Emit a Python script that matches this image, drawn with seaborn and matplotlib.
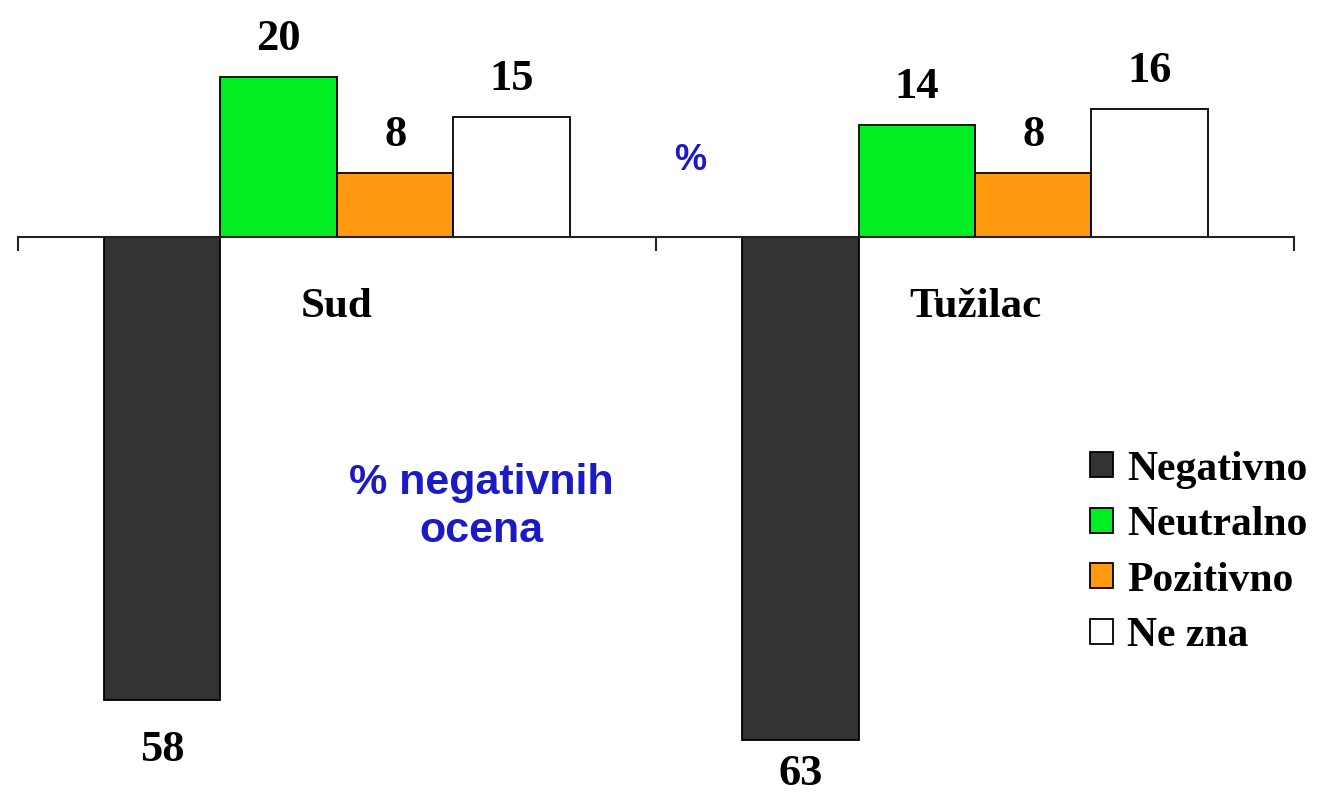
import matplotlib
matplotlib.use("Agg")
import matplotlib.pyplot as plt
import seaborn as sns
import pandas as pd

# ============================================================
# DATA
# ============================================================

kategorije = ["Sud", "Tužilac"]
ocene = ["Negativno", "Neutralno", "Pozitivno", "Ne zna"]

negativno = [58, 63]
neutralno = [20, 14]
pozitivno = [8, 8]
ne_zna = [15, 16]

boje = ["#333333", "#00EE22", "#FF9A10", "#FFFFFF"]

rows = []
for i, k in enumerate(kategorije):
    rows.append((k, "Negativno", -negativno[i]))
    rows.append((k, "Neutralno", neutralno[i]))
    rows.append((k, "Pozitivno", pozitivno[i]))
    rows.append((k, "Ne zna", ne_zna[i]))
df = pd.DataFrame(rows, columns=["kategorija", "ocena", "vrednost"])

# ============================================================
# PLOT
# ============================================================

sns.set_style("white")
plt.rcParams["font.family"] = ["Liberation Serif", "DejaVu Serif"]
plt.rcParams["font.weight"] = "bold"
plt.rcParams["text.color"] = "black"
plt.rcParams["xtick.color"] = "black"
plt.rcParams["xtick.labelcolor"] = "black"

fig = plt.figure(figsize=(13.17, 7.93), dpi=100)
ax = fig.add_axes([0, 0, 1, 1])

sns.barplot(
    data=df,
    x="kategorija",
    y="vrednost",
    hue="ocena",
    hue_order=ocene,
    order=kategorije,
    palette=boje,
    saturation=1,
    width=0.73,
    edgecolor="black",
    linewidth=1.3,
    errorbar=None,
    ax=ax,
)

ax.set_xlim(-0.528, 1.536)
ax.set_ylim(-69.67, 29.7)

for j, cont in enumerate(ax.containers):
    labels = [f"{abs(b.get_height()):.0f}" for b in cont]
    if j == 0:
        # negative bars: the Sud label sits lower than the Tužilac one
        ax.bar_label(cont, labels=[labels[0], ""], padding=22, fontsize=32,
                     fontweight="bold", color="black")
        ax.bar_label(cont, labels=["", labels[1]], padding=10, fontsize=32,
                     fontweight="bold", color="black")
    else:
        ax.bar_label(cont, labels=labels, padding=13, fontsize=32,
                     fontweight="bold", color="black")

# axis line at zero with category separators
for s in ["left", "right", "top"]:
    ax.spines[s].set_visible(False)
ax.spines["bottom"].set_position(("data", 0))
ax.spines["bottom"].set_bounds(-0.5, 1.5)
ax.spines["bottom"].set_linewidth(1.5)
ax.spines["bottom"].set_color("#222222")

ax.set_xticks([-0.5, 0.5, 1.5], minor=True)
ax.tick_params(axis="x", which="minor", bottom=True, length=10, width=1.5,
               direction="out", color="#222222")
ax.tick_params(axis="x", which="major", length=0, pad=37, labelsize=31)
ax.set_xticks([0, 1])
ax.set_xticklabels(kategorije, fontweight="bold", color="black")
ax.set_yticks([])
ax.set_xlabel("")
ax.set_ylabel("")

# blue annotations
fig.text(690 / 1317, 1 - 160 / 793, "%", color="#1A1AC8", fontsize=26,
         fontweight="bold", family="Liberation Sans", ha="center", va="center")
fig.text(481 / 1317, 1 - 507 / 793, "% negativnih\nocena", color="#1A1AC8",
         fontsize=31, fontweight="bold", family="Liberation Sans",
         ha="center", va="center", linespacing=1.25)

# legend
handles, _ = ax.get_legend_handles_labels()
leg = ax.legend(
    handles,
    ocene,
    loc="upper left",
    bbox_to_anchor=(1073 / 1317, 1 - 434 / 793),
    bbox_transform=fig.transFigure,
    frameon=False,
    handlelength=0.55,
    handleheight=0.55,
    handletextpad=0.35,
    labelspacing=0.42,
    borderaxespad=0,
    prop={"weight": "bold", "size": 30},
)
for t in leg.get_texts():
    t.set_color("black")

fig.savefig("out.png", dpi=100)
